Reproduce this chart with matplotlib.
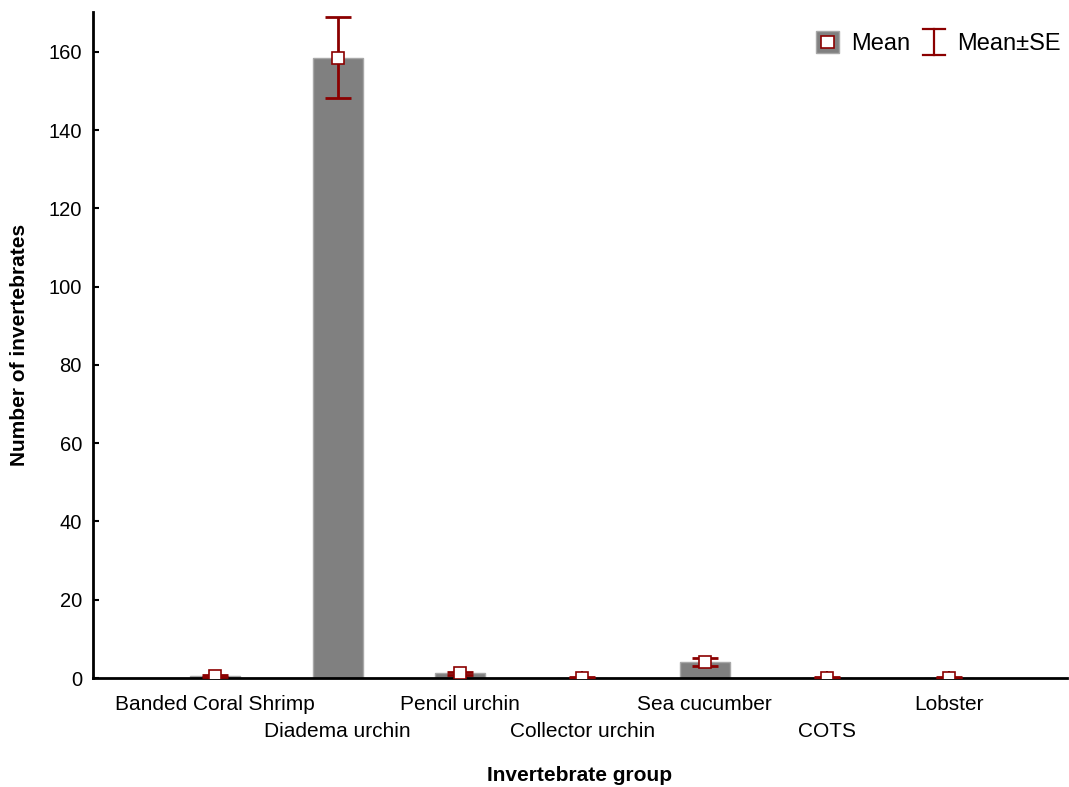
import matplotlib
matplotlib.use("Agg")
import matplotlib.pyplot as plt
from matplotlib.lines import Line2D
from matplotlib.legend_handler import HandlerBase
from matplotlib.patches import Rectangle
import numpy as np

categories = ["Banded Coral Shrimp", "Diadema urchin", "Pencil urchin",
              "Collector urchin", "Sea cucumber", "COTS", "Lobster"]
means = [0.5, 158.5, 1.2, 0.1, 4.1, 0.1, 0.1]
se = [0.3, 10.4, 0.4, 0.08, 1.0, 0.08, 0.08]

plt.rcParams['font.family'] = ['Liberation Sans', 'DejaVu Sans']

BAR = "#808080"
ERR = "#8B0000"

fig = plt.figure(figsize=(10.69, 7.87), dpi=100)
ax = fig.add_axes([0.087, 0.1385, 0.911, 0.8465])

x = np.arange(len(categories))
ax.bar(x, means, width=0.41, color=BAR, edgecolor="#a8a8a8", linewidth=1, zorder=2)
ax.errorbar(x, means, yerr=se, fmt="none", ecolor=ERR, elinewidth=2,
            capsize=9.5, capthick=2, zorder=3)
ax.plot(x, means, linestyle="none", marker="s", markersize=8,
        markerfacecolor="white", markeredgecolor=ERR, markeredgewidth=1.2, zorder=4)

ax.set_xlim(-1.0, 6.96)
ax.set_ylim(0, 170.2)
ax.set_yticks([0, 20, 40, 60, 80, 100, 120, 140, 160])
ax.set_xticks(x)
ax.set_xticklabels(categories, fontsize=15)
ax.tick_params(axis="y", direction="in", length=4, width=1.5, labelsize=14.5, pad=8)
ax.tick_params(axis="x", direction="in", length=5, width=1.5)
for i, t in enumerate(ax.xaxis.get_major_ticks()):
    t.set_pad(12 if i % 2 == 0 else 31.5)

for s in ["top", "right"]:
    ax.spines[s].set_visible(False)
for s in ["left", "bottom"]:
    ax.spines[s].set_linewidth(2)

ax.set_xlabel("Invertebrate group", fontsize=15, fontweight="bold", labelpad=18)
ax.set_ylabel("Number of invertebrates", fontsize=15, fontweight="bold", labelpad=14)


class MeanHandler(HandlerBase):
    def create_artists(self, legend, orig_handle, xd, yd, w, h, fontsize, trans):
        s = h * 1.35
        cx = xd + w / 2
        cy = yd + h / 2
        outer = Rectangle((cx - s / 2, cy - s / 2), s, s, facecolor=BAR,
                          edgecolor="#a8a8a8", lw=1, transform=trans)
        si = s * 0.55
        inner = Rectangle((cx - si / 2, cy - si / 2), si, si, facecolor="white",
                          edgecolor=ERR, lw=1.2, transform=trans)
        return [outer, inner]


class ErrHandler(HandlerBase):
    def create_artists(self, legend, orig_handle, xd, yd, w, h, fontsize, trans):
        cx = xd + w / 2
        top = yd + h * 1.3
        bot = yd - h * 0.3
        hw = h * 0.67
        arts = [Line2D([cx, cx], [bot, top], color=ERR, lw=1.6, transform=trans),
                Line2D([cx - hw, cx + hw], [top, top], color=ERR, lw=1.6, transform=trans),
                Line2D([cx - hw, cx + hw], [bot, bot], color=ERR, lw=1.6, transform=trans)]
        return arts


h1 = Rectangle((0, 0), 1, 1)
h2 = Line2D([], [])
ax.legend([h1, h2], ["Mean", "Mean±SE"], loc="upper right",
          bbox_to_anchor=(1.016, 1.0), frameon=False, ncol=2, fontsize=17,
          handler_map={h1: MeanHandler(), h2: ErrHandler()},
          handlelength=1.3, handletextpad=0.35, columnspacing=0.35)

fig.savefig("out.png", dpi=100)
